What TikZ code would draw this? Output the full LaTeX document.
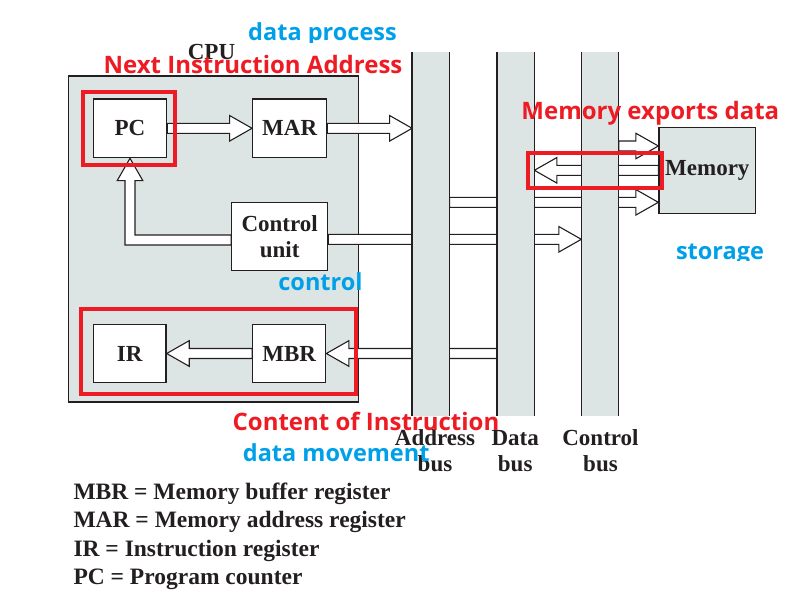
\documentclass[tikz,border=0pt]{standalone}
\usepackage{fontspec}
\setmainfont{Liberation Serif}
\newfontfamily\notefont{Open Sans}
\usetikzlibrary{calc}
\pgfdeclarelayer{bglayer}
\pgfdeclarelayer{arrowlayer}
\pgfdeclarelayer{buslayer}
\pgfsetlayers{bglayer,arrowlayer,buslayer,main}
\definecolor{busgray}{RGB}{220,229,227}
\definecolor{ink}{RGB}{35,31,32}
\definecolor{markred}{RGB}{237,28,36}
\definecolor{noteblue}{RGB}{0,160,233}
\tikzset{
  box/.style={draw=ink, line width=1.3pt, fill=white, inner sep=0pt, text=ink, align=center,
    font=\fontsize{23}{26.6}\selectfont\bfseries},
  grayframe/.style={draw=ink, line width=1.3pt, fill=busgray, inner sep=0pt, text=ink,
    font=\fontsize{23}{26.6}\selectfont\bfseries},
  busbar/.style={fill=busgray, inner sep=0pt, minimum width=37pt, minimum height=364pt},
  busedge/.style={draw=ink, line width=1.3pt},
  blockarrow/.style={draw=ink, line width=1.1pt, fill=white, line join=miter},
  redmark/.style={draw=markred, line width=4pt, inner sep=0pt},
  rednote/.style={text=markred, inner sep=0pt, anchor=base,
    font=\notefont\bfseries\fontsize{24}{28}\selectfont},
  bluenote/.style={text=noteblue, inner sep=0pt, anchor=base,
    font=\notefont\bfseries\fontsize{23.5}{28}\selectfont},
  blacklabel/.style={text=ink, inner sep=0pt, align=center,
    font=\fontsize{23}{26.7}\selectfont\bfseries},
  legend/.style={text=ink, inner sep=0pt, anchor=base west,
    font=\fontsize{23.5}{28}\selectfont\bfseries},
}
% horizontal hollow block arrow, tip at #2, tail at the x of #1
\newcommand\blockarr[2]{%
  \path[blockarrow] let \p1=(#1), \p2=(#2), \p3=($(\p2)!22.5pt!(\x1,\y2)$) in
    (\x1,\y2+5pt) -- (\x3,\y2+5pt) -- (\x3,\y2+12.8pt) -- (\x2,\y2)
    -- (\x3,\y2-12.8pt) -- (\x3,\y2-5pt) -- (\x1,\y2-5pt) -- cycle;}
\begin{document}
\begin{tikzpicture}[x=1pt,y=-1pt]
\useasboundingbox (0,0) rectangle (799,607);

% CPU frame
\begin{pgfonlayer}{bglayer}
  \node[grayframe, minimum width=290pt, minimum height=326pt] (cpu) at (213.3,239) {};
\end{pgfonlayer}
\node[blacklabel] (cpulabel) at (211.5,52) {CPU};

% buses
\begin{pgfonlayer}{buslayer}
  \node[busbar] (addr) at (430.8,234) {};
  \node[busbar] (data) at (515.7,234) {};
  \node[busbar] (ctrl) at (600,234) {};
  \foreach \b in {addr,data,ctrl}{
    \draw[busedge] (\b.north west) -- (\b.south west);
    \draw[busedge] (\b.north east) -- (\b.south east);
  }
\end{pgfonlayer}

% registers and units
\node[box, minimum width=73.4pt, minimum height=58.7pt] (pc)  at (130,128.3) {PC};
\node[box, minimum width=74pt,   minimum height=58.7pt] (mar) at (289.7,128.3) {MAR};
\node[box, minimum width=96pt,   minimum height=68pt]   (cu)  at (279.7,236.7) {Control\\unit};
\node[box, minimum width=72.7pt, minimum height=58.4pt] (ir)  at (129.7,353.5) {IR};
\node[box, minimum width=73pt,   minimum height=58.4pt] (mbr) at (289.2,353.5) {MBR};
\node[grayframe, minimum width=96.7pt, minimum height=86pt] (memory) at (707.3,170.3) {\raisebox{-2.5pt}{Memory}};

\coordinate (memin1) at ([yshift=24.3pt]memory.west);
\coordinate (memin2) at ([yshift=-32pt]memory.west);
\coordinate (cuout) at ([yshift=-2.6pt]cu.east);

% arrows
\begin{pgfonlayer}{arrowlayer}
  \blockarr{pc.east}{mar.west}
  \blockarr{mar.east}{mar.east -| addr.west}
  \blockarr{memin1 -| ctrl.east}{memin1}
  \blockarr{memory.west}{memory.west -| data.east}
  \blockarr{memin2 -| addr.east}{memin2}
  \blockarr{cuout}{cuout -| ctrl.west}
  \blockarr{mbr.east -| data.west}{mbr.east}
  \blockarr{mbr.west}{ir.east}
  \path[blockarrow] let \p1=(cu.west), \p2=(pc.south) in
    (\x1,\y1-3.3pt+5pt) -- (\x2+5pt,\y1-3.3pt+5pt) -- (\x2+5pt,\y2-22.3pt)
    -- (\x2+12.8pt,\y2-22.3pt) -- (\x2,\y2) -- (\x2-12.8pt,\y2-22.3pt)
    -- (\x2-5pt,\y2-22.3pt) -- (\x2-5pt,\y1-3.3pt-5pt) -- (\x1,\y1-3.3pt-5pt) -- cycle;
\end{pgfonlayer}

% bus labels
\node[blacklabel, anchor=base] (addrlabel) at (435,471.7) {Address\\bus};
\node[blacklabel, anchor=base] (datalabel) at (515.2,471.7) {Data\\bus};
\node[blacklabel, anchor=base] (ctrllabel) at (600.5,471.7) {Control\\bus};

% legend
\node[legend] (leg1) at (73.3,499.3) {MBR = Memory buffer register};
\node[legend] (leg2) at (73.3,527.8) {MAR = Memory address register};
\node[legend] (leg3) at (73.3,556.2) {IR = Instruction register};
\node[legend] (leg4) at (73.3,584.6) {PC = Program counter};

% red marks
\node[redmark, minimum width=92.6pt, minimum height=73.3pt] (pcmark) at (129,128.65) {};
\node[redmark, minimum width=274.4pt, minimum height=85.3pt] (irmark) at (218.5,351.35) {};
\node[redmark, minimum width=134.6pt, minimum height=35.3pt] (memmark) at (595,170.35) {};

% notes
\node[rednote] (nextaddr) at (253,74) {Next Instruction Address};
\node[rednote] (memexp) at (650.3,119.3) {Memory exports data};
\node[rednote] (content) at (366,430) {Content of Instruction};
\begin{scope}
  \clip (0,0) rectangle (799,42.5);
  \node[bluenote] (dataproc) at (322.5,40.5) {data process};
\end{scope}
\begin{scope}
  \clip (0,0) rectangle (799,260);
  \node[bluenote] (storage) at (720,259.3) {storage};
\end{scope}
\node[bluenote] (controlnote) at (320.5,290) {control};
\node[bluenote] (datamove) at (336.2,461.7) {data movement};
\end{tikzpicture}
\end{document}
